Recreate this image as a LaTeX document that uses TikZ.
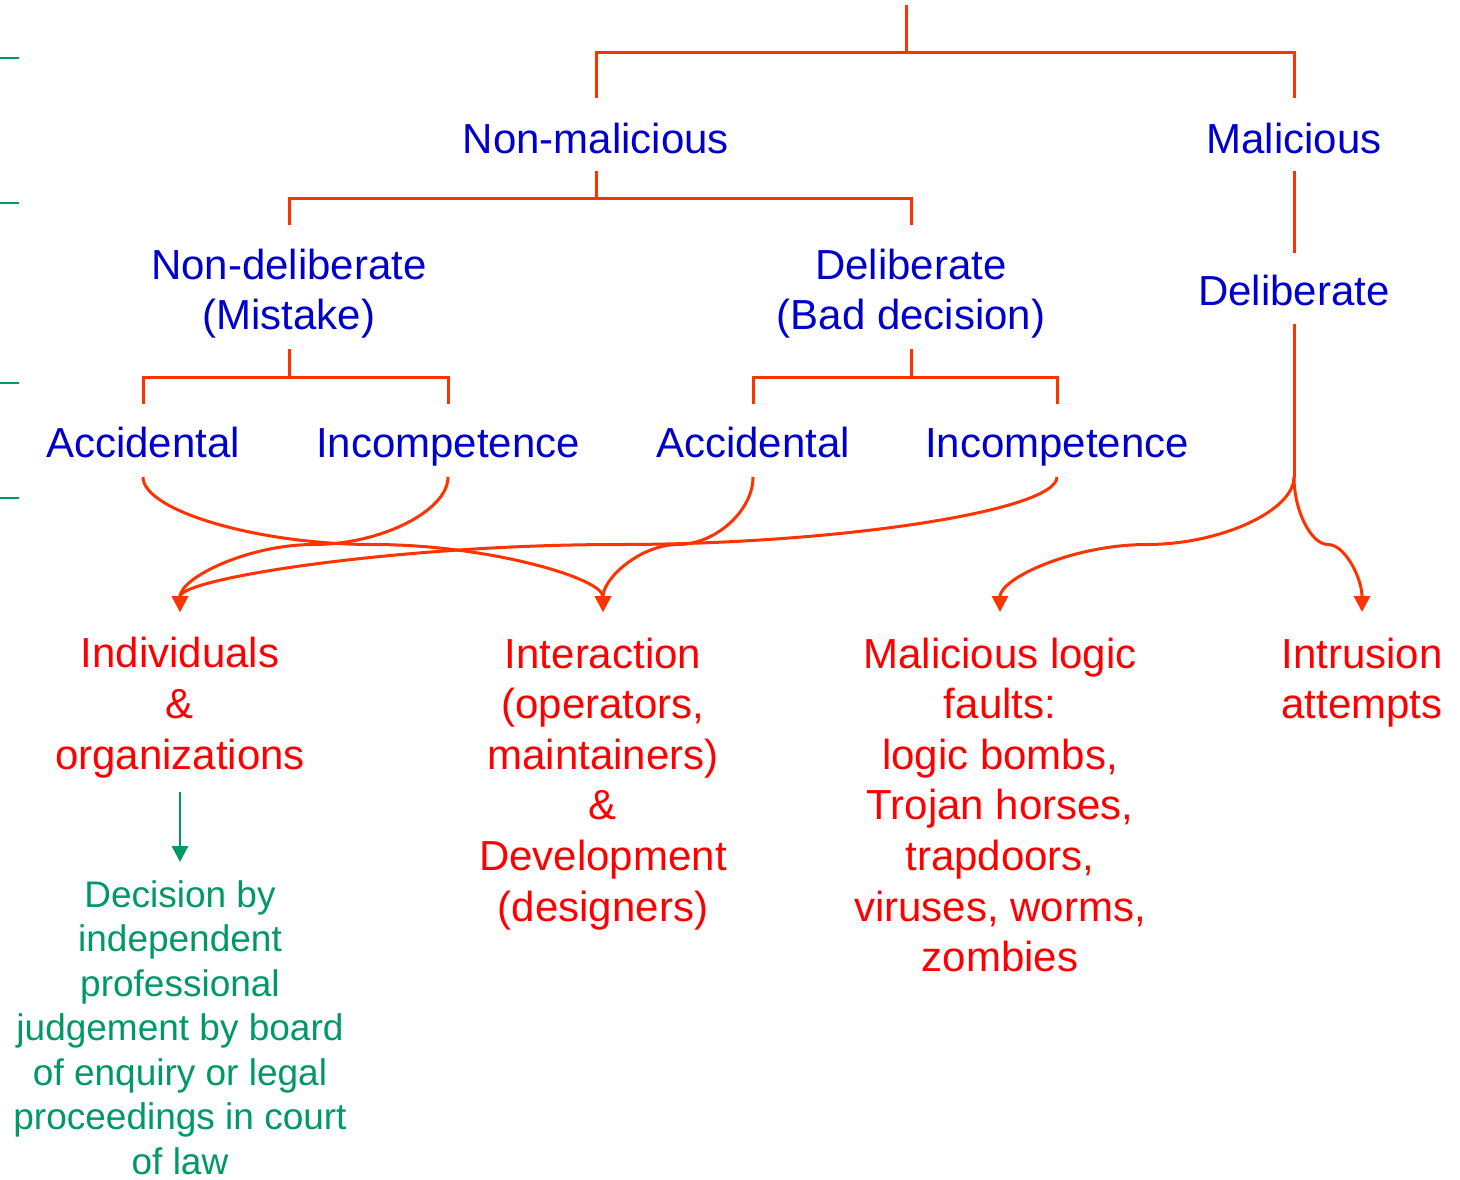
\documentclass[tikz,border=0pt]{standalone}
\usepackage{fontspec}
\setmainfont{Liberation Sans}
\usetikzlibrary{arrows.meta,calc}
\definecolor{lineRed}{RGB}{255,51,0}
\definecolor{textBlue}{RGB}{0,0,204}
\definecolor{textRed}{RGB}{255,0,0}
\definecolor{textGreen}{RGB}{0,153,102}

% Curved connector: leaves the start vertically, runs level through the
% midpoint, and enters the end vertically.
\newcommand{\cconn}[2]{%
  \draw[conn] let \p1=(#1), \p2=(#2) in
    (\p1) .. controls (\x1,{\y1+(\y2-\y1)/4}) and ({\x1+(\x2-\x1)/4},{(\y1+\y2)/2})
    .. ({(\x1+\x2)/2},{(\y1+\y2)/2})
    .. controls ({\x1+3*(\x2-\x1)/4},{(\y1+\y2)/2}) and (\x2,{\y1+3*(\y2-\y1)/4})
    .. (\p2);}

\begin{document}
\begin{tikzpicture}[x=1pt,y=1pt,
  % base anchor of a multi-line node sits on its last line
  cls/.style={inner sep=0pt, anchor=base, align=center, text=textBlue,
    font=\fontsize{42}{50}\selectfont},
  fault/.style={cls, text=textRed, font=\fontsize{42}{50.6}\selectfont},
  note/.style={inner sep=0pt, anchor=base, align=center, text=textGreen,
    font=\fontsize{37}{44.5}\selectfont},
  tree/.style={draw=lineRed, line width=3pt},
  conn/.style={tree, -{Triangle[width=16pt,length=16pt]}},
  greenarrow/.style={draw=textGreen, line width=2.5pt, -{Triangle[width=16pt,length=16pt]}},
  tick/.style={draw=textGreen, line width=2pt}]

\useasboundingbox (0,0) rectangle (1460,-1179);

% margin ticks
\foreach \yy in {58,203,383,498} \draw[tick] (0,-\yy) -- (19,-\yy);

% classification nodes
\node[cls] (nm)  at (596,-153)  {Non-malicious};
\node[cls] (mal) at (1294,-153) {Malicious};
\node[cls] (nd)  at (289,-329)  {Non-deliberate\\(Mistake)};
\node[cls] (db)  at (911,-329)  {Deliberate\\(Bad decision)};
\node[cls] (dm)  at (1294,-305) {Deliberate};
\node[cls] (acl) at (143,-457)  {Accidental};
\node[cls] (icl) at (448,-457)  {Incompetence};
\node[cls] (acr) at (753,-457)  {Accidental};
\node[cls] (icr) at (1057,-457) {Incompetence};

% fault classes
\node[fault] (ind)   at (180,-769)   {Individuals\\\&\\organizations};
\node[fault] (inter) at (603,-921)   {Interaction\\(operators,\\maintainers)\\\&\\Development\\(designers)};
\node[fault] (mlf)   at (1000,-971.6) {Malicious logic\\faults:\\logic bombs,\\Trojan horses,\\trapdoors,\\viruses, worms,\\zombies};
\node[fault] (intr)  at (1362,-718.6) {Intrusion\\attempts};

\node[note] (dec) at (180,-1174) {Decision by\\independent\\professional\\judgement by board\\of enquiry or legal\\proceedings in court\\of law};

% tree
\coordinate (root) at (906,-5);
\coordinate (j1) at (906,-52);
\draw[tree] (root) -- (j1);
\draw[tree] ([yshift=55pt]nm.base) |- (j1) -| ([yshift=55pt]mal.base);

\coordinate (j2) at ($(nm.base)+(0,-45)$);
\draw[tree] ([yshift=-18pt]nm.base) -- (j2);
\draw[tree] ([yshift=104pt]nd.base) |- (j2) -| ([yshift=104pt]db.base);

\draw[tree] ([yshift=-18pt]mal.base) -- ([yshift=52pt]dm.base);

\coordinate (j3) at ($(nd.base)+(0,-48)$);
\draw[tree] ([yshift=-20pt]nd.base) -- (j3);
\draw[tree] ([yshift=53pt]acl.base) |- (j3) -| ([yshift=53pt]icl.base);

\coordinate (j4) at ($(db.base)+(0,-48)$);
\draw[tree] ([yshift=-20pt]db.base) -- (j4);
\draw[tree] ([yshift=53pt]acr.base) |- (j4) -| ([yshift=53pt]icr.base);

\coordinate (split) at ($(dm.base)+(0,-172)$);
\draw[tree] ([yshift=-19pt]dm.base) -- (split);

% curved connectors to the fault classes
\cconn{[yshift=-20pt]acl.base}{[yshift=157pt]ind.base -| inter.base}
\cconn{[yshift=-20pt]icl.base}{[yshift=157pt]ind.base}
\cconn{[yshift=-20pt]acr.base}{[yshift=157pt]ind.base -| inter.base}
\cconn{[yshift=-20pt]icr.base}{[yshift=157pt]ind.base}
\cconn{split}{[yshift=157pt]ind.base -| mlf.base}
\cconn{split}{[yshift=157pt]ind.base -| intr.base}

% judgement arrow
\draw[greenarrow] ([yshift=-23pt]ind.base) -- ([yshift=312pt]dec.base);

\end{tikzpicture}
\end{document}
